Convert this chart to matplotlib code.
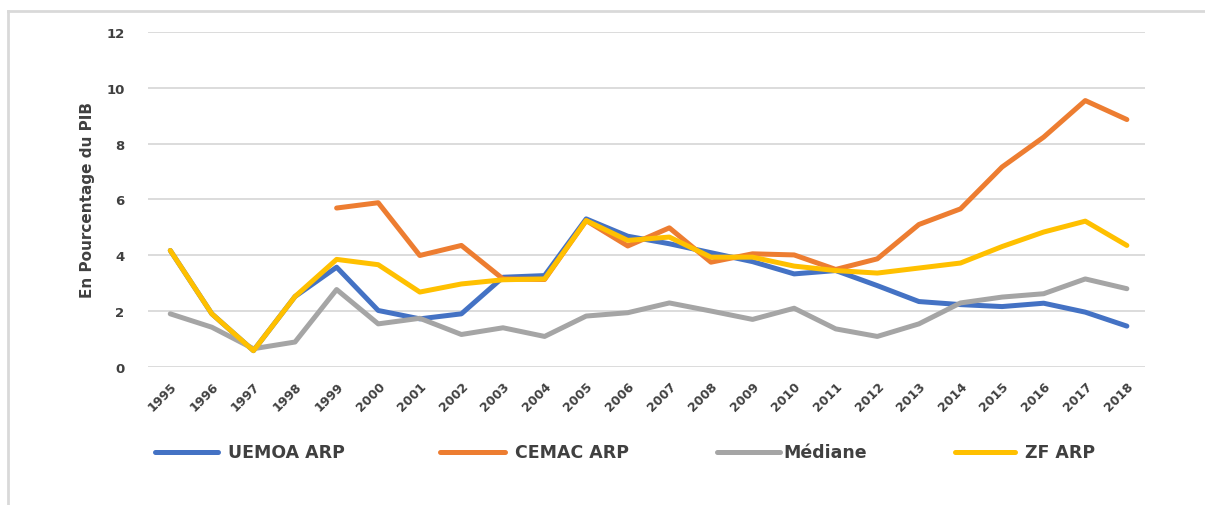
import matplotlib.pyplot as plt
from matplotlib.lines import Line2D

years = [str(y) for y in range(1995, 2019)]

uemoa = [4.17, 1.9, 0.58, 2.52, 3.57, 2.02, 1.72, 1.9, 3.21, 3.27, 5.3, 4.68,
         4.41, 4.09, 3.77, 3.33, 3.45, 2.91, 2.34, 2.23, 2.16, 2.28, 1.96, 1.46]
# CEMAC series starts in 1999
cemac = [None, None, None, None, 5.69, 5.88, 3.99, 4.35, 3.15, 3.13, 5.24, 4.33,
         4.98, 3.75, 4.05, 4.01, 3.49, 3.87, 5.1, 5.66, 7.16, 8.23, 9.54, 8.86]
mediane = [1.9, 1.42, 0.65, 0.89, 2.77, 1.54, 1.74, 1.16, 1.4, 1.09, 1.82, 1.94,
           2.29, 2.0, 1.7, 2.1, 1.36, 1.09, 1.54, 2.29, 2.5, 2.62, 3.15, 2.8]
zf = [4.17, 1.9, 0.58, 2.52, 3.85, 3.66, 2.68, 2.97, 3.12, 3.15, 5.24, 4.53,
      4.65, 3.93, 3.93, 3.61, 3.45, 3.36, 3.54, 3.72, 4.31, 4.83, 5.22, 4.35]

names = ["UEMOA ARP", "CEMAC ARP", "Médiane", "ZF ARP"]
colors = ["#4472C4", "#ED7D31", "#A5A5A5", "#FFC000"]
values = [uemoa, cemac, mediane, zf]

plt.rcParams['font.family'] = ['DejaVu Sans']

W, H = 1205, 506
fig = plt.figure(figsize=(W / 100, H / 100), dpi=100)
ax = fig.add_axes([0.123, 0.273, 0.827, 0.662])

x = list(range(len(years)))
for vals, color in zip(values, colors):
    xs = [i for i, v in zip(x, vals) if v is not None]
    ys = [v for v in vals if v is not None]
    ax.plot(xs, ys, color=color, lw=3.6, solid_capstyle='round',
            solid_joinstyle='round')

ax.set_ylim(0, 12)
ax.set_xlim(-0.53, 23.43)
ax.set_yticks(range(0, 13, 2))
ax.grid(axis='y', color='#d9d9d9', lw=1.3)
ax.set_axisbelow(True)
for s in ax.spines.values():
    s.set_visible(False)
ax.tick_params(axis='both', length=0, colors='#404040')
ax.tick_params(axis='y', pad=17, labelsize=9.5)
ax.set_yticklabels([str(v) for v in range(0, 13, 2)], fontweight='bold')
ax.set_xticks(x)
ax.set_xticklabels(years, rotation=45, ha='right', va='top',
                   rotation_mode='anchor', fontsize=9, fontweight='bold')
ax.tick_params(axis='x', pad=9)

ax.set_ylabel("En Pourcentage du PIB", fontsize=11, fontweight='bold',
              color='#404040', labelpad=8)

# legend entries laid out by hand, as in the reference
leg_y = 1 - 453 / H
line_x = [(155, 218), (440, 505), (717, 780), (955, 1015)]
text_x = [228, 515, 783, 1025]
for name, color, (x0, x1), tx in zip(names, colors, line_x, text_x):
    fig.add_artist(Line2D([x0 / W, x1 / W], [leg_y, leg_y],
                          transform=fig.transFigure, color=color, lw=3.6,
                          solid_capstyle='round'))
    fig.text(tx / W, leg_y, name, ha='left', va='center', fontsize=12.5,
             fontweight='bold', color='#404040')

# light frame on the top and left edges
fig.add_artist(Line2D([0.007, 0.007], [0.0, 0.977], transform=fig.transFigure,
                      color='#d9d9d9', lw=2))
fig.add_artist(Line2D([0.007, 1.0], [0.977, 0.977], transform=fig.transFigure,
                      color='#d9d9d9', lw=2))

fig.savefig("out.png", dpi=100)
